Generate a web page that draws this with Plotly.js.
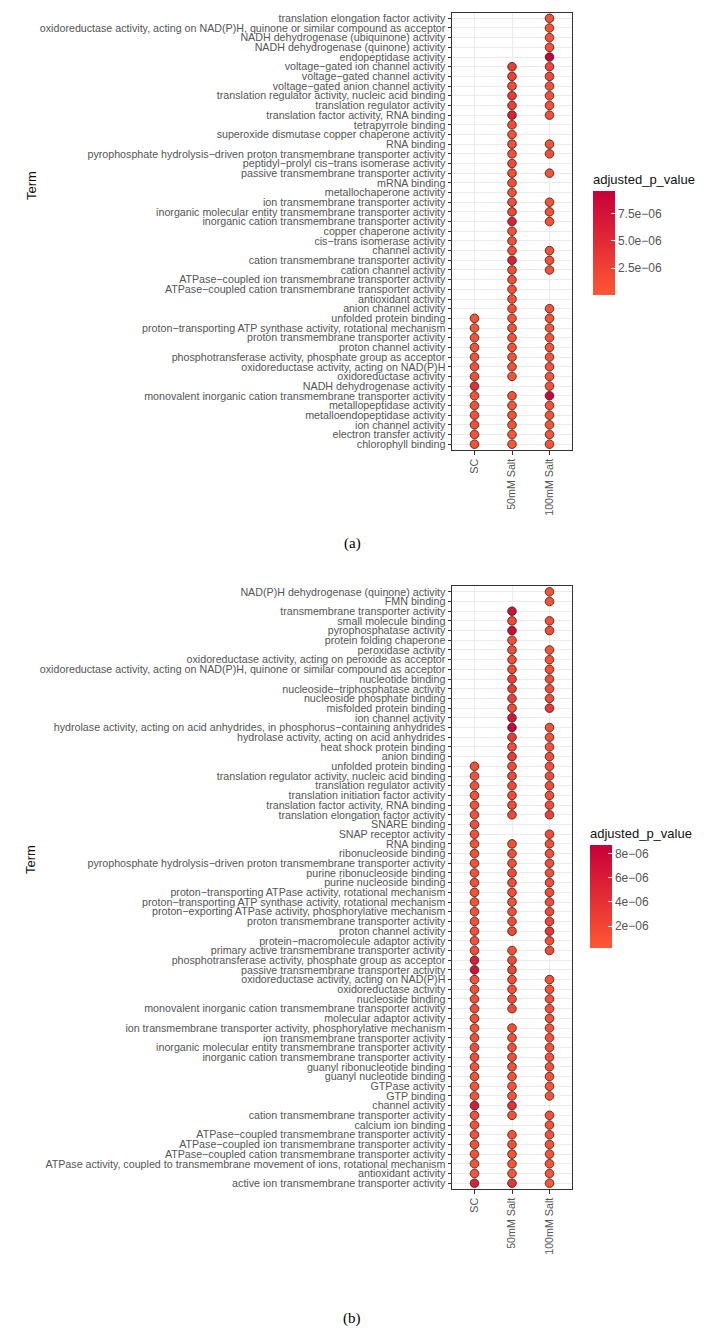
<!DOCTYPE html>
<html>
<head>
<meta charset="utf-8">
<script src="https://cdn.plot.ly/plotly-3.0.1.min.js"></script>
<style>html,body{margin:0;padding:0;background:#fff;}#chart{width:705px;height:1330px;}</style>
</head>
<body>
<div id="chart"></div>
<script>
// ---------- data ----------
var conditions = ['SC', '50mM Salt', '100mM Salt'];

// Panel (a): terms listed top to bottom
var termsA = [
  'translation elongation factor activity',
  'oxidoreductase activity, acting on NAD(P)H, quinone or similar compound as acceptor',
  'NADH dehydrogenase (ubiquinone) activity',
  'NADH dehydrogenase (quinone) activity',
  'endopeptidase activity',
  'voltage\u2212gated ion channel activity',
  'voltage\u2212gated channel activity',
  'voltage\u2212gated anion channel activity',
  'translation regulator activity, nucleic acid binding',
  'translation regulator activity',
  'translation factor activity, RNA binding',
  'tetrapyrrole binding',
  'superoxide dismutase copper chaperone activity',
  'RNA binding',
  'pyrophosphate hydrolysis\u2212driven proton transmembrane transporter activity',
  'peptidyl\u2212prolyl cis\u2212trans isomerase activity',
  'passive transmembrane transporter activity',
  'mRNA binding',
  'metallochaperone activity',
  'ion transmembrane transporter activity',
  'inorganic molecular entity transmembrane transporter activity',
  'inorganic cation transmembrane transporter activity',
  'copper chaperone activity',
  'cis\u2212trans isomerase activity',
  'channel activity',
  'cation transmembrane transporter activity',
  'cation channel activity',
  'ATPase\u2212coupled ion transmembrane transporter activity',
  'ATPase\u2212coupled cation transmembrane transporter activity',
  'antioxidant activity',
  'anion channel activity',
  'unfolded protein binding',
  'proton\u2212transporting ATP synthase activity, rotational mechanism',
  'proton transmembrane transporter activity',
  'proton channel activity',
  'phosphotransferase activity, phosphate group as acceptor',
  'oxidoreductase activity, acting on NAD(P)H',
  'oxidoreductase activity',
  'NADH dehydrogenase activity',
  'monovalent inorganic cation transmembrane transporter activity',
  'metallopeptidase activity',
  'metalloendopeptidase activity',
  'ion channel activity',
  'electron transfer activity',
  'chlorophyll binding'
];
var scA = [null,null,null,null,null,null,null,null,null,null,null,null,null,null,null,null,null,null,null,null,null,null,null,null,null,null,null,null,null,null,null,
  0.5e-6,0.6e-6,0.7e-6,0.7e-6,0.8e-6,0.9e-6,1.0e-6,4.5e-6,0.8e-6,0.9e-6,0.9e-6,1.0e-6,0.8e-6,0.7e-6];
var mM50A = [null,null,null,null,null,3.0e-6,2.8e-6,1.2e-6,3.2e-6,2.5e-6,5.8e-6,1.2e-6,0.8e-6,1.0e-6,0.9e-6,1.5e-6,1.0e-6,0.9e-6,0.8e-6,1.2e-6,1.5e-6,6.0e-6,0.7e-6,0.9e-6,1.2e-6,6.2e-6,1.1e-6,1.0e-6,0.9e-6,0.6e-6,0.9e-6,
  0.7e-6,0.8e-6,0.8e-6,0.6e-6,0.7e-6,0.6e-6,0.5e-6,null,0.6e-6,0.5e-6,0.5e-6,0.4e-6,0.3e-6,0.01e-6];
var mM100A = [1.0e-6,0.8e-6,0.8e-6,0.9e-6,9.6e-6,2.0e-6,1.8e-6,1.0e-6,1.0e-6,0.8e-6,0.9e-6,null,null,0.6e-6,1.0e-6,null,0.5e-6,null,null,0.8e-6,0.8e-6,0.9e-6,null,null,0.7e-6,0.9e-6,0.8e-6,null,null,null,0.8e-6,
  0.7e-6,0.6e-6,0.6e-6,0.6e-6,0.7e-6,0.7e-6,0.6e-6,0.8e-6,9.0e-6,0.7e-6,0.6e-6,0.6e-6,0.5e-6,0.4e-6];
var legendTickValsA = [2.5e-6, 5.0e-6, 7.5e-6];
var legendTickTextA = ['2.5e\u221206', '5.0e\u221206', '7.5e\u221206'];

// Panel (b): terms listed top to bottom
var termsB = [
  'NAD(P)H dehydrogenase (quinone) activity',
  'FMN binding',
  'transmembrane transporter activity',
  'small molecule binding',
  'pyrophosphatase activity',
  'protein folding chaperone',
  'peroxidase activity',
  'oxidoreductase activity, acting on peroxide as acceptor',
  'oxidoreductase activity, acting on NAD(P)H, quinone or similar compound as acceptor',
  'nucleotide binding',
  'nucleoside\u2212triphosphatase activity',
  'nucleoside phosphate binding',
  'misfolded protein binding',
  'ion channel activity',
  'hydrolase activity, acting on acid anhydrides, in phosphorus\u2212containing anhydrides',
  'hydrolase activity, acting on acid anhydrides',
  'heat shock protein binding',
  'anion binding',
  'unfolded protein binding',
  'translation regulator activity, nucleic acid binding',
  'translation regulator activity',
  'translation initiation factor activity',
  'translation factor activity, RNA binding',
  'translation elongation factor activity',
  'SNARE binding',
  'SNAP receptor activity',
  'RNA binding',
  'ribonucleoside binding',
  'pyrophosphate hydrolysis\u2212driven proton transmembrane transporter activity',
  'purine ribonucleoside binding',
  'purine nucleoside binding',
  'proton\u2212transporting ATPase activity, rotational mechanism',
  'proton\u2212transporting ATP synthase activity, rotational mechanism',
  'proton\u2212exporting ATPase activity, phosphorylative mechanism',
  'proton transmembrane transporter activity',
  'proton channel activity',
  'protein\u2212macromolecule adaptor activity',
  'primary active transmembrane transporter activity',
  'phosphotransferase activity, phosphate group as acceptor',
  'passive transmembrane transporter activity',
  'oxidoreductase activity, acting on NAD(P)H',
  'oxidoreductase activity',
  'nucleoside binding',
  'monovalent inorganic cation transmembrane transporter activity',
  'molecular adaptor activity',
  'ion transmembrane transporter activity, phosphorylative mechanism',
  'ion transmembrane transporter activity',
  'inorganic molecular entity transmembrane transporter activity',
  'inorganic cation transmembrane transporter activity',
  'guanyl ribonucleotide binding',
  'guanyl nucleotide binding',
  'GTPase activity',
  'GTP binding',
  'channel activity',
  'cation transmembrane transporter activity',
  'calcium ion binding',
  'ATPase\u2212coupled transmembrane transporter activity',
  'ATPase\u2212coupled ion transmembrane transporter activity',
  'ATPase\u2212coupled cation transmembrane transporter activity',
  'ATPase activity, coupled to transmembrane movement of ions, rotational mechanism',
  'antioxidant activity',
  'active ion transmembrane transporter activity'
];
var scB = [null,null,null,null,null,null,null,null,null,null,null,null,null,null,null,null,null,null,
  1.0e-6,1.0e-6,1.0e-6,0.9e-6,1.0e-6,1.0e-6,1.2e-6,1.0e-6,0.9e-6,1.0e-6,0.9e-6,1.0e-6,1.0e-6,0.9e-6,0.9e-6,1.0e-6,1.0e-6,1.0e-6,1.0e-6,1.2e-6,6.0e-6,7.0e-6,
  1.0e-6,1.0e-6,1.2e-6,1.2e-6,1.0e-6,1.0e-6,1.2e-6,1.2e-6,1.2e-6,0.8e-6,0.8e-6,0.7e-6,0.6e-6,6.0e-6,1.0e-6,0.8e-6,0.9e-6,0.8e-6,0.8e-6,0.7e-6,0.5e-6,5.5e-6];
var mM50B = [null,null,7.0e-6,1.5e-6,7.5e-6,1.0e-6,1.2e-6,1.2e-6,1.8e-6,2.5e-6,2.8e-6,2.5e-6,1.5e-6,6.5e-6,8.7e-6,3.0e-6,1.5e-6,3.0e-6,
  1.5e-6,1.8e-6,1.5e-6,1.5e-6,1.5e-6,1.8e-6,null,null,1.0e-6,1.2e-6,1.0e-6,1.2e-6,1.2e-6,1.0e-6,1.0e-6,1.0e-6,1.2e-6,1.5e-6,null,1.0e-6,1.5e-6,2.0e-6,
  1.2e-6,1.0e-6,1.2e-6,1.5e-6,null,1.0e-6,1.0e-6,1.0e-6,1.0e-6,0.8e-6,0.8e-6,0.7e-6,0.6e-6,4.0e-6,0.8e-6,null,0.8e-6,0.7e-6,0.6e-6,0.5e-6,0.4e-6,3.5e-6];
var mM100B = [0.8e-6,0.9e-6,null,1.0e-6,1.2e-6,null,0.8e-6,0.8e-6,1.0e-6,1.5e-6,1.5e-6,1.5e-6,3.5e-6,null,1.0e-6,1.0e-6,1.0e-6,1.5e-6,
  1.2e-6,1.5e-6,1.5e-6,1.2e-6,1.5e-6,2.5e-6,null,1.2e-6,1.2e-6,1.2e-6,1.5e-6,1.2e-6,1.2e-6,1.5e-6,1.5e-6,1.8e-6,2.0e-6,3.5e-6,1.2e-6,1.5e-6,null,null,
  0.8e-6,0.8e-6,1.0e-6,1.0e-6,1.0e-6,1.0e-6,1.0e-6,1.0e-6,1.0e-6,0.8e-6,0.8e-6,0.7e-6,0.6e-6,null,1.0e-6,0.8e-6,0.8e-6,0.7e-6,0.7e-6,0.6e-6,0.5e-6,0.2e-6];
var legendTickValsB = [2e-6, 4e-6, 6e-6, 8e-6];
var legendTickTextB = ['2e\u221206', '4e\u221206', '6e\u221206', '8e\u221206'];

// ---------- build ----------
function buildPoints(terms, seriesList) {
  var xs = [], ys = [], cs = [];
  seriesList.forEach(function (vals, ci) {
    vals.forEach(function (v, i) {
      if (v !== null) { xs.push(conditions[ci]); ys.push(terms[i]); cs.push(v); }
    });
  });
  return {x: xs, y: ys, c: cs};
}
var pa = buildPoints(termsA, [scA, mM50A, mM100A]);
var pb = buildPoints(termsB, [scB, mM50B, mM100B]);

var W = 705, H = 1330;
function fx(px) { return px / W; }
function fy(py) { return 1 - py / H; }

var colorscale = [[0, '#FF5733'], [1, '#C70039']];
var markerLine = {color: 'rgba(45,30,28,0.9)', width: 0.9};

var traces = [
  {type: 'scatter', mode: 'markers', x: pa.x, y: pa.y, xaxis: 'x', yaxis: 'y',
   marker: {size: 8.6, color: pa.c, coloraxis: 'coloraxis', line: markerLine},
   hoverinfo: 'x+y', showlegend: false},
  {type: 'scatter', mode: 'markers', x: pb.x, y: pb.y, xaxis: 'x2', yaxis: 'y2',
   marker: {size: 8.6, color: pb.c, coloraxis: 'coloraxis2', line: markerLine},
   hoverinfo: 'x+y', showlegend: false}
];

var tickFont = {family: 'Liberation Sans, Arial, sans-serif', size: 10.7, color: '#555555'};
function xAxis(anchor) {
  return {
    type: 'category', categoryorder: 'array', categoryarray: conditions,
    tickmode: 'array', tickvals: conditions, ticktext: conditions,
    range: [-0.6, 2.6], domain: [fx(452), fx(572)], anchor: anchor,
    showgrid: true, gridcolor: '#EBEBEB', gridwidth: 1,
    zeroline: false, showline: true, mirror: true, linecolor: '#333333', linewidth: 1,
    ticks: 'outside', ticklen: 3.5, tickcolor: '#333333', tickwidth: 1,
    tickangle: -90, tickfont: tickFont, fixedrange: true
  };
}
function yAxis(anchor, terms, top, bottom) {
  return {
    type: 'category', categoryorder: 'array', categoryarray: terms,
    tickmode: 'array', tickvals: terms, ticktext: terms,
    range: [terms.length - 1 + 0.6, -0.6], domain: [fy(bottom), fy(top)], anchor: anchor,
    showgrid: true, gridcolor: '#EBEBEB', gridwidth: 1,
    zeroline: false, showline: true, mirror: true, linecolor: '#333333', linewidth: 1,
    ticks: 'outside', ticklen: 3.5, tickcolor: '#333333', tickwidth: 1,
    tickfont: tickFont, automargin: false, fixedrange: true
  };
}
function cbar(topPx, lenPx, leftPx, vals, texts) {
  return {
    x: fx(leftPx), xanchor: 'left', y: fy(topPx), yanchor: 'top',
    len: lenPx, lenmode: 'pixels', thickness: 22, thicknessmode: 'pixels',
    xpad: 0, ypad: 0, outlinewidth: 0,
    tickmode: 'array', tickvals: vals, ticktext: texts,
    ticks: 'inside', ticklen: 4, tickcolor: '#ffffff', tickwidth: 1,
    tickfont: {family: 'Liberation Sans, Arial, sans-serif', size: 12, color: '#555555'},
    title: {text: 'adjusted_p_value', side: 'top', font: {family: 'Liberation Sans, Arial, sans-serif', size: 13, color: '#111111'}}
  };
}
function minOf(a) { return Math.min.apply(null, a); }
function maxOf(a) { return Math.max.apply(null, a); }

function note(text, px, py, font, angle) {
  return {text: text, x: fx(px), y: fy(py), xref: 'paper', yref: 'paper', showarrow: false,
    xanchor: 'center', yanchor: 'middle', textangle: angle || 0, font: font};
}
var termFont = {family: 'Liberation Sans, Arial, sans-serif', size: 13, color: '#111111'};
var panelFont = {family: 'Liberation Serif, DejaVu Serif, serif', size: 15, color: '#000000'};

var layout = {
  width: W, height: H, margin: {l: 0, r: 0, t: 0, b: 0},
  paper_bgcolor: '#ffffff', plot_bgcolor: '#ffffff',
  showlegend: false,
  xaxis: xAxis('y'),
  yaxis: yAxis('x', termsA, 12.5, 450),
  xaxis2: xAxis('y2'),
  yaxis2: yAxis('x2', termsB, 586, 1189),
  coloraxis: {colorscale: colorscale, cmin: minOf(pa.c), cmax: maxOf(pa.c),
    colorbar: cbar(171, 124, 593, legendTickValsA, legendTickTextA)},
  coloraxis2: {colorscale: colorscale, cmin: minOf(pb.c), cmax: maxOf(pb.c),
    colorbar: cbar(825, 123, 590, legendTickValsB, legendTickTextB)},
  annotations: [
    note('Term', 32, 186, termFont, -90),
    note('Term', 30, 860, termFont, -90),
    note('(a)', 352, 543, panelFont),
    note('(b)', 352, 1318, panelFont)
  ]
};

Plotly.newPlot('chart', traces, layout, {displayModeBar: false, staticPlot: true});
</script>
</body>
</html>
